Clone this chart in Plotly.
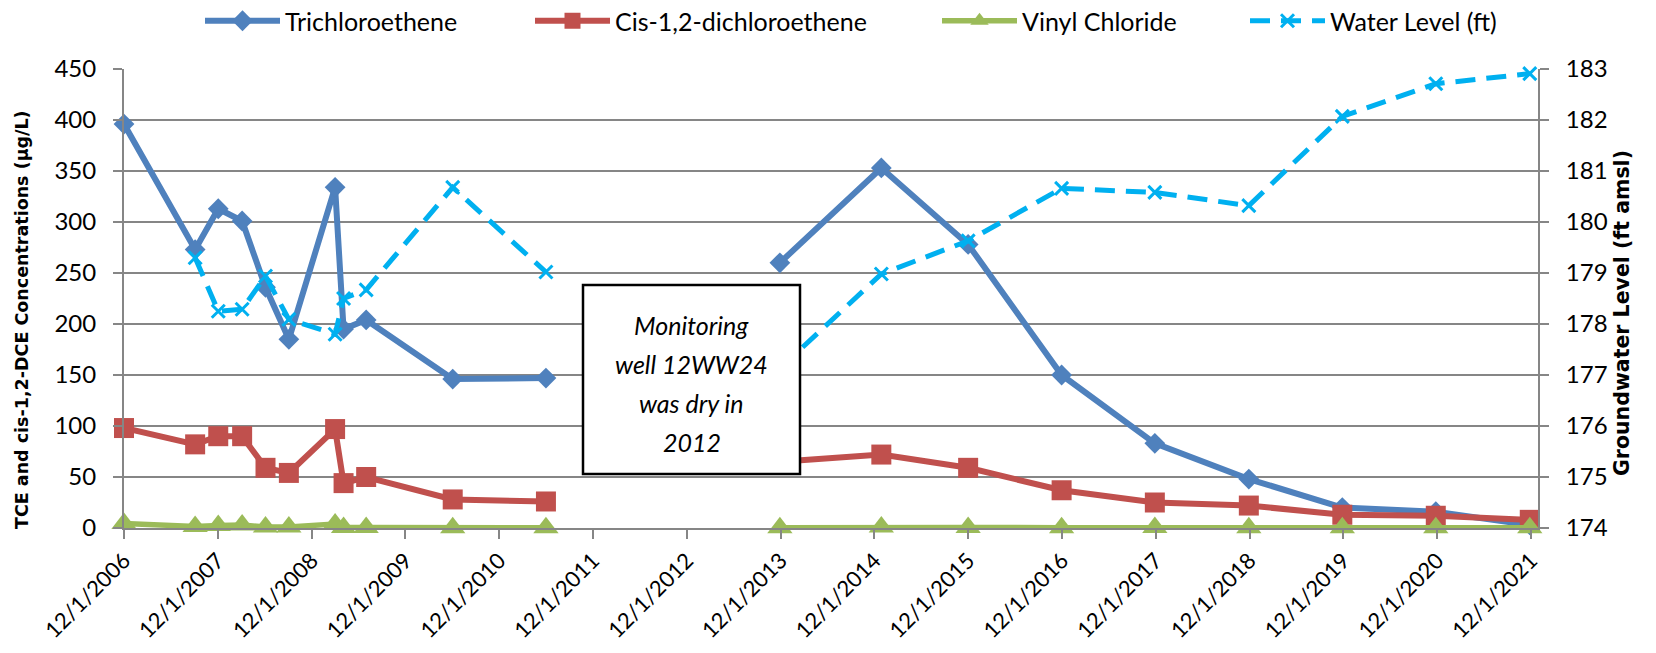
import plotly.graph_objects as go

# ---------------- data ----------------
sample_dates = ["2006-12-01", "2007-09-04", "2007-12-03", "2008-03-05", "2008-06-04",
                "2008-09-03", "2009-03-02", "2009-04-04", "2009-07-01", "2010-06-03",
                "2011-06-01", "2012-06-01", "2013-11-28", "2014-12-28", "2015-12-01",
                "2016-11-29", "2017-11-27", "2018-11-28", "2019-11-27", "2020-11-25",
                "2021-11-26"]
tce = [396, 273, 313, 301, 236, 185, 334, 195, 204, 146, 147, None,
       260, 353, 278, 150, 83, 48, 20, 16, 3]
cis_dce = [98, 82, 90, 90, 59, 54, 97, 44, 50, 28, 26, None,
           65, 72, 59, 37, 25, 22, 13, 12, 8]
vinyl_chloride = [4.5, 1.5, 2.5, 3, 1, 1, 4, 0.5, 0.5, 0.3, 0.3, None,
                  0.3, 1, 0.5, 0.3, 0.5, 0.3, 0.3, 0.3, 0.3]
water_level = [None, 179.30, 178.25, 178.29, 178.94, 178.09, 177.80, 178.50, 178.67, 180.68, 179.02, None,
               177.13, 178.98, 179.63, 180.66, 180.58, 180.32, 182.07, 182.71, 182.91]

tick_dates = ["2006-12-01", "2007-12-01", "2008-12-01", "2009-12-01", "2010-12-01",
              "2011-12-01", "2012-12-01", "2013-12-01", "2014-12-01", "2015-12-01",
              "2016-12-01", "2017-12-01", "2018-12-01", "2019-12-01", "2020-12-01",
              "2021-12-01"]
tick_labels = ["12/1/2006", "12/1/2007", "12/1/2008", "12/1/2009", "12/1/2010",
               "12/1/2011", "12/1/2012", "12/1/2013", "12/1/2014", "12/1/2015",
               "12/1/2016", "12/1/2017", "12/1/2018", "12/1/2019", "12/1/2020",
               "12/1/2021"]
box_lines = ["Monitoring", "well 12WW24", "was dry in", "2012"]

# ---------------- style ----------------
BLUE = "#4F81BD"
RED = "#C0504D"
GREEN = "#9BBB59"
CYAN = "#00B0F0"
GRID = "#868686"
YTICKFONT = dict(family="Lato", size=24, color="black")
XTICKFONT = dict(family="Lato", size=22, color="black")
LEGFONT = dict(family="Lato", size=25, color="black")

fig = go.Figure()
fig.add_trace(go.Scatter(x=sample_dates, y=tce, name="Trichloroethene", mode="lines+markers",
                         line=dict(color=BLUE, width=6), connectgaps=False, cliponaxis=False,
                         marker=dict(symbol="diamond", size=16, color=BLUE), legend="legend"))
fig.add_trace(go.Scatter(x=sample_dates, y=cis_dce, name="Cis-1,2-dichloroethene", mode="lines+markers",
                         line=dict(color=RED, width=6), connectgaps=False, cliponaxis=False,
                         marker=dict(symbol="square", size=20, color=RED), legend="legend2"))
fig.add_trace(go.Scatter(x=sample_dates, y=vinyl_chloride, name="Vinyl Chloride", mode="lines+markers",
                         line=dict(color=GREEN, width=5.5), connectgaps=False, cliponaxis=False,
                         marker=dict(symbol="triangle-up", size=22, color=GREEN), legend="legend3"))
fig.add_trace(go.Scatter(x=sample_dates, y=water_level, name="Water Level (ft)", mode="lines+markers",
                         yaxis="y2", line=dict(color=CYAN, width=5, dash="20px,11px"),
                         connectgaps=False, cliponaxis=False,
                         marker=dict(symbol="x-thin", size=13, color=CYAN, line=dict(width=3, color=CYAN)),
                         legend="legend4"))

W, H = 1656, 653
PL, PR, PT, PB = 124, 1538, 69, 528          # plot area edges on screen
L, R, T, B = PL, W - PR, PT, H - PB
pw = W - L - R
ph = H - T - B


def px_x(sx):
    return (sx - PL) / pw


def px_y(sy):
    return (PB - sy) / ph


def leg(sx):
    return dict(orientation="h", xref="container", yref="container",
                x=sx / W, xanchor="left", y=1 - 21 / H, yanchor="middle",
                font=LEGFONT, itemwidth=75, bgcolor="rgba(0,0,0,0)", borderwidth=0)


fig.update_layout(
    width=W, height=H,
    margin=dict(l=L, r=R, t=T, b=B, pad=0, autoexpand=False),
    paper_bgcolor="white", plot_bgcolor="white",
    font=dict(family="Lato", color="black"),
    showlegend=True,
    legend=leg(200), legend2=leg(530), legend3=leg(937), legend4=leg(1245),
    xaxis=dict(type="date", range=["2006-12-01", "2021-12-28"], automargin=False,
               tickmode="array", tickvals=tick_dates, ticktext=tick_labels,
               tickangle=-45, tickfont=XTICKFONT, showgrid=False, zeroline=False,
               showline=True, linecolor=GRID, linewidth=2,
               ticks="outside", ticklen=9, tickwidth=2, tickcolor=GRID),
    yaxis=dict(range=[0, 450], dtick=50, tickfont=YTICKFONT, automargin=False,
               showgrid=True, gridcolor=GRID, gridwidth=2, zeroline=False,
               showline=True, linecolor=GRID, linewidth=2,
               ticks="outside", ticklen=9, tickwidth=2, tickcolor=GRID,
               ticklabelstandoff=12),
    yaxis2=dict(range=[174, 183], dtick=1, tickfont=YTICKFONT, overlaying="y", side="right",
                automargin=False,
                showgrid=False, zeroline=False, showline=True, linecolor=GRID, linewidth=2,
                ticks="outside", ticklen=9, tickwidth=2, tickcolor=GRID,
                ticklabelstandoff=12),
)

# axis titles
fig.add_annotation(text="TCE and cis-1,2-DCE Concentrations (µg/L)", textangle=-90,
                   xref="paper", yref="paper", x=px_x(22), y=px_y(320),
                   xanchor="center", yanchor="middle", showarrow=False,
                   font=dict(family="DejaVu Sans", size=17.5, color="black", weight="bold"))
fig.add_annotation(text="Groundwater Level (ft amsl)", textangle=-90,
                   xref="paper", yref="paper", x=px_x(1622), y=px_y(313),
                   xanchor="center", yanchor="middle", showarrow=False,
                   font=dict(family="DejaVu Sans", size=20.5, color="black", weight="bold"))

# text box
fig.add_shape(type="rect", xref="paper", yref="paper",
              x0=px_x(583), x1=px_x(800), y0=px_y(474), y1=px_y(285),
              fillcolor="white", line=dict(color="black", width=2.5), layer="above")
for i, t in enumerate(box_lines):
    fig.add_annotation(text="<i>" + t + "</i>", xref="paper", yref="paper",
                       x=px_x(691.5), y=px_y(325 + 39 * i), xanchor="center", yanchor="middle",
                       showarrow=False, font=dict(family="Lato", size=25, color="black"))

# remove the default 8 px page margin so the figure sits at the window's corner
fig.write_html("out.html", config={"displayModeBar": False},
               post_script="document.body.style.margin='0px';")
